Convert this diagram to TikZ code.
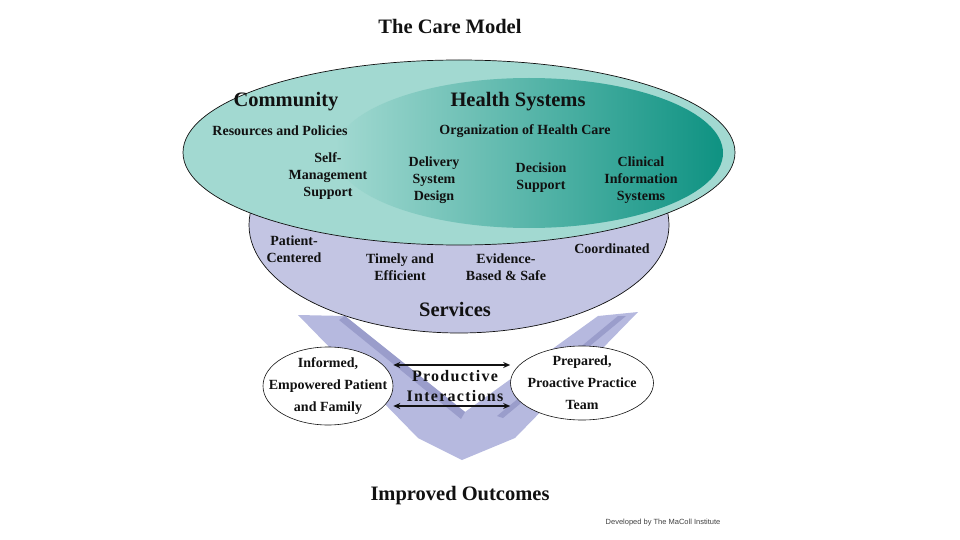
\documentclass[tikz,border=0pt]{standalone}
\usepackage{fontspec}
\setmainfont{Liberation Serif}
\newfontfamily\creditfont{Liberation Sans}
\newfontfamily\spacedfont[LetterSpace=8]{Liberation Serif}
\usetikzlibrary{arrows.meta,shapes.geometric}
\definecolor{CareInk}{HTML}{111111}
\definecolor{CareTeal}{HTML}{A2D9D1}
\definecolor{CareDeep}{HTML}{0E9282}
\definecolor{CareLilac}{HTML}{C3C5E3}
\definecolor{CareArrow}{HTML}{B6B9DF}
\definecolor{CareShade}{HTML}{9A9DCB}
\tikzset{
  every node/.style={font=\bfseries, text=CareInk},
  heading/.style={font=\bfseries\fontsize{20.5}{24}\selectfont},
  tag/.style={align=center, font=\bfseries\fontsize{14}{17}\selectfont},
  party/.style={ellipse, draw=CareInk, line width=0.6pt, fill=white, align=center,
    inner xsep=-22pt, inner ysep=-14pt, font=\bfseries\fontsize{14}{22}\selectfont},
  outline/.style={draw=CareInk, line width=0.7pt},
  exchange/.style={{Stealth[length=7pt,width=6pt]}-{Stealth[length=7pt,width=6pt]}, draw=CareInk, line width=1.2pt},
}
\begin{document}
\begin{tikzpicture}[x=1pt,y=-1pt]
  \useasboundingbox (0,0) rectangle (960,540);
  % Outcome chevron behind the services
  \fill[CareArrow] (298,315) -- (345,316) -- (465,412) -- (598,316) -- (638,312)
    -- (515,438) -- (462,460) -- (418,438) -- cycle;
  \fill[CareShade] (345,316) -- (465,412) -- (461,419) -- (339,320) -- cycle;
  \fill[CareShade] (618,316) -- (626,316) -- (503,418) -- (497,416) -- cycle;
  % Services, community and health system
  \draw[outline, fill=CareLilac] (459,225) ellipse [x radius=210, y radius=108];
  \draw[outline, fill=CareTeal] (459,152.5) ellipse [x radius=276, y radius=92.5];
  \shade[left color=CareTeal, right color=CareDeep] (529,153) ellipse [x radius=194, y radius=75];
  % Headings
  \node[heading] (title) at (450,26) {The Care Model};
  \node[heading] (community) at (286,102) {Community};
  \node[heading] (health) at (518,102) {Health Systems};
  \node[tag] (resources) at (280,131) {Resources and Policies};
  \node[tag] (organization) at (525,131) {Organization of Health Care};
  % Model elements
  \foreach \nm/\x/\y/\txt in {selfmgmt/328/176/{Self-\\Management\\Support},
      delivery/434/180/{Delivery\\System\\Design}, decision/541/178/{Decision\\Support},
      clinical/641/180/{Clinical\\Information\\Systems}}
    \node[tag] (\nm) at (\x,\y) {\txt};
  % Service qualities
  \foreach \nm/\x/\y/\txt in {patient/294/249/{Patient-\\Centered},
      timely/400/267/{Timely and\\Efficient}, evidence/506/267/{Evidence-\\Based \& Safe},
      coordinated/612/249/{Coordinated}}
    \node[tag] (\nm) at (\x,\y) {\txt};
  \node[heading] (services) at (455,309) {Services};
  % Interaction partners
  \node[party, minimum width=130pt, minimum height=78pt] (informed) at (328,386)
    {Informed,\\Empowered Patient\\and Family};
  \node[party, minimum width=143pt, minimum height=74pt] (prepared) at (582,383)
    {Prepared,\\Proactive Practice\\Team};
  \node[font=\spacedfont\bfseries\fontsize{16}{20}\selectfont, align=center] (productive)
    at (455,386) {Productive\\Interactions};
  \draw[exchange] ([yshift=21pt]informed.east) -- ([yshift=18pt]prepared.west);
  \draw[exchange] ([yshift=-20pt]informed.east) -- ([yshift=-23pt]prepared.west);
  % Outcome and credit
  \node[heading] (outcomes) at (460,496) {Improved Outcomes};
  \node[font=\creditfont\fontsize{7.5}{9}\selectfont, text=black!75] (credit)
    at (663,523) {Developed by The MaColl Institute};
\end{tikzpicture}
\end{document}
